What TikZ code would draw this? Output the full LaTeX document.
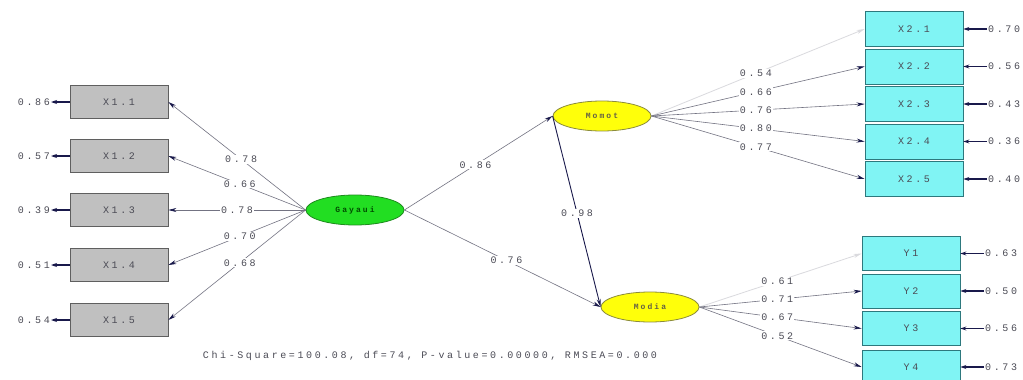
\documentclass[tikz,border=0pt]{standalone}
\usepackage{fontspec}
\usetikzlibrary{arrows.meta,shapes.geometric}
\newfontfamily\labfont[LetterSpace=26]{Liberation Mono}
\definecolor{txtc}{RGB}{75,75,85}
\definecolor{linec}{RGB}{115,115,130}
\definecolor{fadec}{RGB}{218,218,222}
\definecolor{headc}{RGB}{25,25,75}
\definecolor{greyfill}{RGB}{192,192,192}
\definecolor{greydraw}{RGB}{95,95,95}
\definecolor{cyanfill}{RGB}{128,244,244}
\definecolor{cyandraw}{RGB}{45,120,125}
\definecolor{greenfill}{RGB}{34,222,34}
\definecolor{greendraw}{RGB}{30,140,30}
\definecolor{yellowfill}{RGB}{255,255,10}
\definecolor{yellowdraw}{RGB}{140,140,60}
\tikzset{
  lab/.style={font=\labfont\fontsize{10}{11}\selectfont, text=txtc, inner sep=1pt},
  loadlab/.style={lab, fill=white},
  gbox/.style={draw=greydraw, fill=greyfill, line width=0.8pt, minimum width=98pt, minimum height=33pt, font=\labfont\fontsize{10}{11}\selectfont, text=txtc},
  cbox/.style={draw=cyandraw, fill=cyanfill, line width=0.8pt, minimum width=98pt, minimum height=34pt, font=\labfont\fontsize{10}{11}\selectfont, text=txtc},
  lat/.style={ellipse, line width=0.8pt, minimum width=98pt, minimum height=30pt, inner sep=0pt, font=\labfont\bfseries\fontsize{8}{9}\selectfont},
  load/.style={draw=linec, line width=0.6pt, -{Stealth[length=8pt,width=4pt,color=headc]}},
  fload/.style={draw=fadec, line width=0.8pt, -{Stealth[length=8pt,width=4pt,color=fadec]}},
  struct/.style={draw=headc, line width=0.9pt, -{Stealth[length=8pt,width=4pt,color=headc]}},
  err/.style={draw=headc, line width=1.2pt, -{Stealth[length=6pt,width=4pt]}}
}
\begin{document}
\begin{tikzpicture}[x=1pt,y=-1pt]
\useasboundingbox (0,0) rectangle (1023,380);
\clip (0,0) rectangle (1023,380);
\fill[white] (0,0) rectangle (1023,380);

% latent variables
\node[lat, draw=greendraw, fill=greenfill, text=green!30!black] (g) at (355,210) {Gayaui};
\node[lat, draw=yellowdraw, fill=yellowfill, text=yellow!30!black] (m) at (602,116) {Momot};
\node[lat, draw=yellowdraw, fill=yellowfill, text=yellow!30!black] (d) at (650,307) {Modia};

% left indicators
\node[gbox] (x11) at (119,102) {X1.1};
\node[gbox] (x12) at (119,156) {X1.2};
\node[gbox] (x13) at (119,210) {X1.3};
\node[gbox] (x14) at (119,265) {X1.4};
\node[gbox] (x15) at (119,320) {X1.5};

\node[lab, anchor=east] (e11) at (51,102) {0.86};
\node[lab, anchor=east] (e12) at (51,156) {0.57};
\node[lab, anchor=east] (e13) at (51,210) {0.39};
\node[lab, anchor=east] (e14) at (51,265) {0.51};
\node[lab, anchor=east] (e15) at (51,320) {0.54};
\foreach \i in {11,12,13,14,15} \draw[err] (x\i.west) -- (e\i.east);

% right indicators X2
\node[cbox, minimum height=35pt] (x21) at (914,29) {X2.1};
\node[cbox, minimum height=35pt] (x22) at (914,66.5) {X2.2};
\node[cbox, minimum height=35pt] (x23) at (914,104) {X2.3};
\node[cbox, minimum height=35pt] (x24) at (914,141.5) {X2.4};
\node[cbox, minimum height=35pt] (x25) at (914,179) {X2.5};

\node[lab, anchor=west] (e21) at (987,29) {0.70};
\node[lab, anchor=west] (e22) at (987,66.5) {0.56};
\node[lab, anchor=west] (e23) at (987,104) {0.43};
\node[lab, anchor=west] (e24) at (987,141.5) {0.36};
\node[lab, anchor=west] (e25) at (987,179) {0.40};
\foreach \i in {21,22,23,24,25} \draw[err] (e\i.west) -- (x\i.east);

% right indicators Y
\node[cbox] (y1) at (911,253.5) {Y1};
\node[cbox] (y2) at (911,291) {Y2};
\node[cbox] (y3) at (911,328.5) {Y3};
\node[cbox] (y4) at (911,367) {Y4};

\node[lab, anchor=west] (ey1) at (984,253.5) {0.63};
\node[lab, anchor=west] (ey2) at (984,291) {0.50};
\node[lab, anchor=west] (ey3) at (984,328.5) {0.56};
\node[lab, anchor=west] (ey4) at (984,367) {0.73};
\foreach \i in {1,2,3,4} \draw[err] (ey\i.west) -- (y\i.east);

% Gayaui loadings
\draw[load] (g.west) -- node[loadlab, pos=0.47] {0.78} (x11.east);
\draw[load] (g.west) -- node[loadlab, pos=0.48] {0.66} (x12.east);
\draw[load] (g.west) -- node[loadlab, pos=0.5] {0.78} (x13.east);
\draw[load] (g.west) -- node[loadlab, pos=0.48] {0.70} (x14.east);
\draw[load] (g.west) -- node[loadlab, pos=0.48] {0.68} (x15.east);

% Momot loadings
\draw[fload] (m.east) -- node[loadlab, pos=0.49] {0.54} (x21.west);
\draw[load] (m.east) -- node[loadlab, pos=0.49] {0.66} (x22.west);
\draw[load] (m.east) -- node[loadlab, pos=0.49] {0.76} (x23.west);
\draw[load] (m.east) -- node[loadlab, pos=0.49] {0.80} (x24.west);
\draw[load] (m.east) -- node[loadlab, pos=0.49] {0.77} (x25.west);

% Modia loadings
\draw[fload] (d.east) -- node[loadlab, pos=0.48] {0.61} (y1.west);
\draw[load] (d.east) -- node[loadlab, pos=0.48] {0.71} (y2.west);
\draw[load] (d.east) -- node[loadlab, pos=0.48] {0.67} (y3.west);
\draw[load] (d.east) -- node[loadlab, pos=0.48] {0.52} (y4.west);

% structural paths
\draw[load] (g.east) -- node[loadlab, pos=0.48] {0.86} (m.west);
\draw[load] (g.east) -- node[loadlab, pos=0.52] {0.76} (d.west);
\draw[struct] (m.west) -- node[loadlab, pos=0.51] {0.98} (d.west);

% fit statistics
\node[lab] (fit) at (430,356) {Chi-Square=100.08, df=74, P-value=0.00000, RMSEA=0.000};
\end{tikzpicture}
\end{document}
